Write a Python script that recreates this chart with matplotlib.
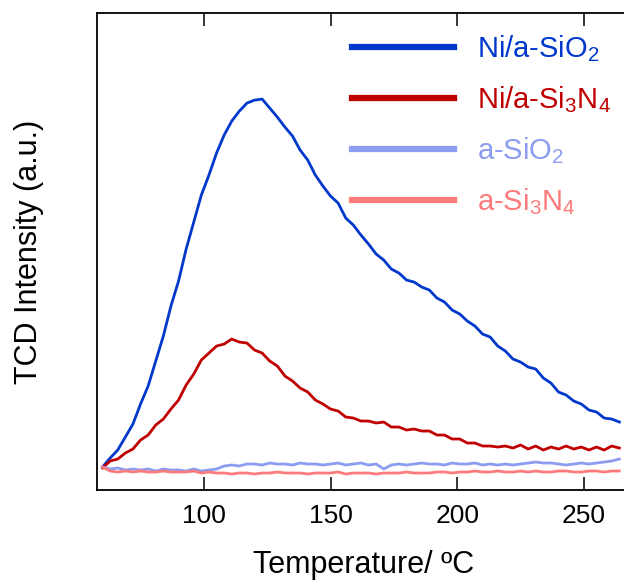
import numpy as np
import matplotlib
matplotlib.use('Agg')
import matplotlib.pyplot as plt

# TCD profiles (arbitrary units)
plt.rcParams['font.family'] = ['Liberation Sans', 'DejaVu Sans']
plt.rcParams['mathtext.default'] = 'regular'

temp = [60, 63, 66, 69, 72, 75, 78, 81, 84, 87, 90, 93, 96, 99, 102, 105, 108,
        111, 114, 117, 120, 123, 126, 129, 132, 135, 138, 141, 144, 147, 150,
        153, 156, 159, 162, 165, 168, 171, 174, 177, 180, 183, 186, 189, 192,
        195, 198, 201, 204, 207, 210, 213, 216, 219, 222, 225, 228, 231, 234,
        237, 240, 243, 246, 249, 252, 255, 258, 261, 264]

ni_sio2 = [23, 32, 40, 53, 66, 86, 104, 129, 154, 184, 209, 241, 268, 295, 315,
           337, 355, 369, 379, 387, 390, 391, 382, 373, 363, 354, 340, 330, 315,
           304, 294, 287, 272, 265, 255, 246, 236, 230, 221, 217, 210, 208, 203,
           200, 192, 188, 180, 176, 169, 164, 156, 153, 144, 139, 131, 128, 123,
           121, 112, 107, 98, 95, 89, 86, 80, 78, 72, 71, 68]

ni_si3n4 = [22, 29, 31, 37, 41, 50, 55, 65, 71, 81, 90, 105, 116, 130, 137, 144,
            146, 151, 148, 147, 140, 137, 129, 124, 114, 109, 102, 98, 90, 86,
            81, 79, 73, 72, 69, 69, 67, 68, 63, 63, 60, 61, 59, 59, 55, 55, 51,
            51, 47, 47, 44, 44, 43, 44, 42, 45, 41, 44, 40, 43, 41, 44, 41, 43,
            40, 43, 40, 44, 42]

sio2 = [23, 21, 22, 20, 21, 20, 21, 19, 21, 20, 20, 19, 21, 19, 20, 21, 24, 25,
        24, 26, 26, 25, 27, 26, 26, 25, 27, 26, 26, 25, 26, 27, 25, 26, 27, 25,
        26, 21, 25, 26, 25, 26, 27, 26, 26, 25, 27, 26, 26, 27, 25, 26, 25, 26,
        25, 26, 27, 28, 27, 27, 26, 25, 26, 27, 26, 27, 28, 29, 31]

si3n4 = [23, 19, 18, 19, 18, 19, 18, 18, 19, 18, 18, 18, 19, 17, 18, 17, 17, 16,
         17, 17, 16, 17, 17, 18, 17, 17, 17, 16, 17, 17, 17, 18, 16, 17, 17, 17,
         16, 17, 17, 17, 18, 17, 17, 17, 18, 18, 17, 18, 18, 19, 18, 18, 19, 18,
         18, 19, 18, 19, 18, 18, 19, 19, 18, 18, 19, 19, 18, 19, 19]

labels = ['Ni/a-SiO$_2$', 'Ni/a-Si$_3$N$_4$', 'a-SiO$_2$', 'a-Si$_3$N$_4$']
colors = ['#0038cc', '#c00000', '#8c9cf0', '#ff7b7b']

fig = plt.figure(figsize=(6.24, 5.83), dpi=100)
ax = fig.add_axes([0.1554, 0.1595, 0.855, 0.818])

for ys, lab, c in zip([ni_sio2, ni_si3n4, sio2, si3n4], labels, colors):
    ax.plot(temp, ys, color=c, lw=2, label=lab)

ax.set_xlim(57.8, 268.4)
ax.set_ylim(0, 477)
ax.set_xticks([100, 150, 200, 250])
ax.set_yticks([])
ax.tick_params(axis='x', direction='in', top=True, length=9.5, width=1.1,
               labelsize=19, pad=10)
for s in ax.spines.values():
    s.set_linewidth(1.3)
ax.spines['right'].set_visible(False)

ax.set_xlabel('Temperature/ ºC', fontsize=22, labelpad=16)
ax.set_ylabel('TCD Intensity (a.u.)', fontsize=22, labelpad=38)

leg = ax.legend(loc='upper left', bbox_to_anchor=(0.428, 1.012), frameon=False,
                fontsize=21, handlelength=3.5, handletextpad=0.8,
                labelspacing=0.69, labelcolor='linecolor')
for ln in leg.get_lines():
    ln.set_linewidth(4.5)

fig.savefig('out.png', dpi=100)
